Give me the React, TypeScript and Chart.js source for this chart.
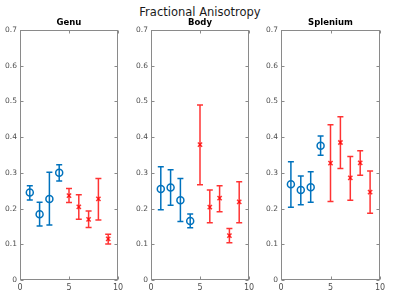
import React, { useEffect, useRef } from "react";
import { Chart, registerables } from "chart.js";

Chart.register(...registerables);

const mainTitle = "Fractional Anisotropy";
const panelTitles = ["Genu", "Body", "Splenium"];
const xControl = [1, 2, 3, 4];
const xPatient = [5, 6, 7, 8, 9];
const yTicks = [0, 0.1, 0.2, 0.3, 0.4, 0.5, 0.6, 0.7];
const xTicks = [0, 5, 10];

const genuControlMean = [0.245, 0.184, 0.227, 0.3];
const genuControlLow = [0.224, 0.151, 0.154, 0.277];
const genuControlHigh = [0.264, 0.218, 0.302, 0.323];
const genuPatientMean = [0.236, 0.205, 0.17, 0.227, 0.115];
const genuPatientLow = [0.217, 0.17, 0.147, 0.168, 0.101];
const genuPatientHigh = [0.256, 0.239, 0.193, 0.284, 0.128];

const bodyControlMean = [0.255, 0.259, 0.223, 0.165];
const bodyControlLow = [0.197, 0.209, 0.164, 0.146];
const bodyControlHigh = [0.317, 0.309, 0.284, 0.185];
const bodyPatientMean = [0.379, 0.204, 0.229, 0.124, 0.219];
const bodyPatientLow = [0.267, 0.16, 0.191, 0.104, 0.16];
const bodyPatientHigh = [0.49, 0.252, 0.264, 0.144, 0.275];

const spleniumControlMean = [0.268, 0.252, 0.26, 0.376];
const spleniumControlLow = [0.204, 0.211, 0.218, 0.349];
const spleniumControlHigh = [0.331, 0.291, 0.303, 0.403];
const spleniumPatientMean = [0.327, 0.385, 0.286, 0.328, 0.246];
const spleniumPatientLow = [0.22, 0.312, 0.223, 0.293, 0.187];
const spleniumPatientHigh = [0.435, 0.457, 0.346, 0.362, 0.305];

const panels = [
  { title: panelTitles[0], cm: genuControlMean, cl: genuControlLow, ch: genuControlHigh, pm: genuPatientMean, pl: genuPatientLow, ph: genuPatientHigh, left: 20, right: 118 },
  { title: panelTitles[1], cm: bodyControlMean, cl: bodyControlLow, ch: bodyControlHigh, pm: bodyPatientMean, pl: bodyPatientLow, ph: bodyPatientHigh, left: 151, right: 249 },
  { title: panelTitles[2], cm: spleniumControlMean, cl: spleniumControlLow, ch: spleniumControlHigh, pm: spleniumPatientMean, pl: spleniumPatientLow, ph: spleniumPatientHigh, left: 281, right: 380 },
];

const BLUE = "#0072BD";
const RED = "rgba(255,0,0,0.8)";
const FONT = "'DejaVu Sans', sans-serif";
const AXIS_COLOR = "#8a8a8a";
const TEXT_COLOR = "#4d4d4d";

const errorBarPlugin = {
  id: "errorBars",
  beforeDatasetsDraw(chart: any) {
    const ctx = chart.ctx;
    const xs = chart.scales.x;
    const ys = chart.scales.y;
    chart.data.datasets.forEach((ds: any) => {
      ctx.save();
      ctx.strokeStyle = ds.borderColor;
      ctx.lineWidth = 1.5;
      ds.data.forEach((p: any, i: number) => {
        const x = xs.getPixelForValue(p.x);
        const yl = ys.getPixelForValue(ds.errLow[i]);
        const yh = ys.getPixelForValue(ds.errHigh[i]);
        ctx.beginPath();
        ctx.moveTo(x, yl);
        ctx.lineTo(x, yh);
        ctx.moveTo(x - 3, yl);
        ctx.lineTo(x + 3, yl);
        ctx.moveTo(x - 3, yh);
        ctx.lineTo(x + 3, yh);
        ctx.stroke();
      });
      ctx.restore();
    });
  },
};

const boxPlugin = {
  id: "matlabBox",
  afterDraw(chart: any) {
    const { ctx, chartArea } = chart;
    const l = Math.round(chartArea.left) + 0.5;
    const r = Math.round(chartArea.right) - 0.5;
    const t = Math.round(chartArea.top) + 0.5;
    const b = Math.round(chartArea.bottom) - 0.5;
    ctx.save();
    ctx.strokeStyle = AXIS_COLOR;
    ctx.lineWidth = 1;
    ctx.strokeRect(l, t, r - l, b - t);
    ctx.beginPath();
    chart.scales.y.ticks.forEach((tk: any) => {
      const y = Math.round(chart.scales.y.getPixelForValue(tk.value)) + 0.5;
      ctx.moveTo(l, y);
      ctx.lineTo(l + 3, y);
      ctx.moveTo(r, y);
      ctx.lineTo(r - 3, y);
    });
    chart.scales.x.ticks.forEach((tk: any) => {
      const x = Math.round(chart.scales.x.getPixelForValue(tk.value)) + 0.5;
      ctx.moveTo(x, b);
      ctx.lineTo(x, b - 3);
      ctx.moveTo(x, t);
      ctx.lineTo(x, t + 3);
    });
    ctx.stroke();
    ctx.restore();
  },
};

function Panel({ p }: { p: any }) {
  const ref = useRef<HTMLCanvasElement>(null);
  useEffect(() => {
    if (!ref.current) return;
    const chart = new Chart(ref.current, {
      type: "scatter",
      data: {
        datasets: [
          {
            data: xControl.map((x, i) => ({ x, y: p.cm[i] })),
            errLow: p.cl,
            errHigh: p.ch,
            borderColor: BLUE,
            backgroundColor: "rgba(0,0,0,0)",
            pointStyle: "circle",
            pointRadius: 3.5,
            pointBorderWidth: 1.5,
          } as any,
          {
            data: xPatient.map((x, i) => ({ x, y: p.pm[i] })),
            errLow: p.pl,
            errHigh: p.ph,
            borderColor: RED,
            backgroundColor: RED,
            pointStyle: "crossRot",
            pointRadius: 3,
            pointBorderWidth: 1.5,
          } as any,
        ],
      },
      options: {
        animation: false,
        responsive: false,
        maintainAspectRatio: false,
        layout: { padding: { top: 30, right: 10, left: 0, bottom: 0 } },
        plugins: { legend: { display: false }, tooltip: { enabled: false }, title: { display: false } },
        scales: {
          x: {
            type: "linear",
            min: 0,
            max: 10,
            afterBuildTicks: (s: any) => { s.ticks = xTicks.map((v) => ({ value: v })); },
            afterFit: (s: any) => { s.height = 16; },
            grid: { display: false, drawTicks: false },
            border: { display: false },
            ticks: { padding: 3, color: TEXT_COLOR, font: { family: FONT, size: 8 }, maxRotation: 0, autoSkip: false, callback: (v: any) => String(v) },
          },
          y: {
            type: "linear",
            min: 0,
            max: 0.7,
            afterBuildTicks: (s: any) => { s.ticks = yTicks.map((v) => ({ value: v })); },
            afterFit: (s: any) => { s.width = 20; },
            grid: { display: false, drawTicks: false },
            border: { display: false },
            ticks: { padding: 3, color: TEXT_COLOR, font: { family: FONT, size: 7.5 }, autoSkip: false, callback: (v: any) => (v === 0 ? "0" : Number(v).toFixed(1)) },
          },
        },
      },
      plugins: [errorBarPlugin, boxPlugin],
    } as any);
    return () => chart.destroy();
  }, []);
  const width = p.right - p.left + 30;
  return (
    <>
      <canvas
        ref={ref}
        width={width}
        height={296}
        style={{ position: "absolute", left: p.left - 20, top: 0, width, height: 296 }}
      />
      <div
        style={{
          position: "absolute",
          left: p.left,
          width: p.right - p.left,
          top: 17,
          textAlign: "center",
          font: `bold 8.5px ${FONT}`,
          lineHeight: "10px",
          color: "#000",
        }}
      >
        {p.title}
      </div>
    </>
  );
}

export default function App() {
  return (
    <div style={{ position: "fixed", left: 0, top: 0, width: 400, height: 296, background: "#fff", overflow: "hidden" }}>
      <div
        style={{
          position: "absolute",
          left: 0,
          width: 400,
          top: 5,
          textAlign: "center",
          font: `11.5px ${FONT}`,
          lineHeight: "14px",
          color: "#1a1a1a",
        }}
      >
        {mainTitle}
      </div>
      {panels.map((p, i) => (
        <Panel key={i} p={p} />
      ))}
    </div>
  );
}
